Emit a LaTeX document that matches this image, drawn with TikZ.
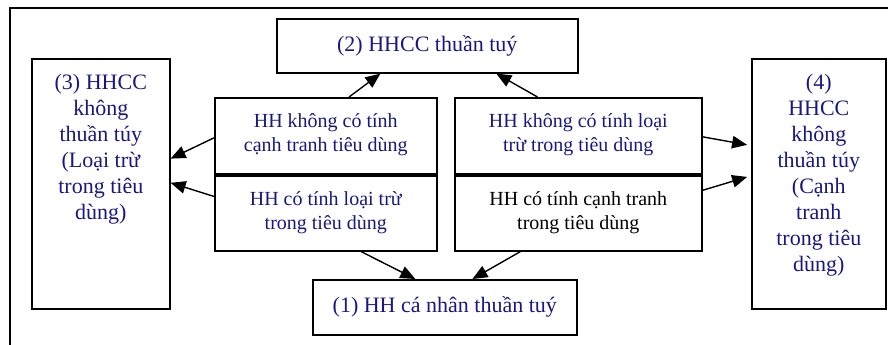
\documentclass[tikz,border=0pt]{standalone}
\usepackage{fontspec}
\setmainfont{Liberation Serif}
\usetikzlibrary{arrows.meta,calc}
\definecolor{navy}{RGB}{24,24,128}
\begin{document}
\begin{tikzpicture}[x=1pt,y=-1pt,
 box/.style={draw, line width=1.6pt, inner sep=0pt, anchor=north west, align=center, text=navy},
 mid/.style={box, font=\fontsize{20}{24}\selectfont},
 big/.style={box, font=\fontsize{22}{26}\selectfont},
 arr/.style={line width=1.4pt, -{Triangle[length=15pt,width=12.5pt]}},
]
\useasboundingbox (0,0) rectangle (888,345);
\draw[line width=1.6pt] (10,345) -- (10,8) -- (888,8);

\node[big, minimum width=301pt, minimum height=54pt] (b2) at (276,18) {(2) HHCC thuần tuý};
\node[big, minimum width=264pt, minimum height=55pt] (b1) at (312,279) {(1) HH cá nhân thuần tuý};
\node[box, minimum width=138pt, minimum height=250pt] (b3) at (31,58) {};
\node[box, minimum width=134pt, minimum height=250pt] (b4) at (751,58) {};
\node[big, draw=none, anchor=north] (t3) at ($(b3.north)+(0,15)$) {(3) HHCC\\không\\thuần túy\\(Loại trừ\\trong tiêu\\dùng)};
\node[big, draw=none, anchor=north] (t4) at ($(b4.north)+(0,15)$) {(4)\\HHCC\\không\\thuần túy\\(Cạnh\\tranh\\trong tiêu\\dùng)};

\node[mid, minimum width=222pt, minimum height=76pt, text depth=6pt] (ul) at (214,97) {HH không có tính\\cạnh tranh tiêu dùng};
\node[mid, minimum width=222pt, minimum height=75pt, text depth=6pt] (ll) at (214,175) {HH có tính loại trừ\\trong tiêu dùng};
\node[mid, minimum width=247pt, minimum height=76pt, text depth=6pt] (ur) at (454,97) {HH không có tính loại\\trừ trong tiêu dùng};
\node[mid, minimum width=247pt, minimum height=75pt, text depth=6pt, text=black] (lr) at (454,175) {HH có tính cạnh tranh\\trong tiêu dùng};

\draw[arr] ($(ul.north west)!0.604!(ul.north east)$) -- ($(b2.south west)!0.345!(b2.south east)$);
\draw[arr] ($(ur.north west)!0.336!(ur.north east)$) -- ($(b2.south west)!0.728!(b2.south east)$);
\draw[arr] ($(ul.north west)!0.526!(ul.south west)$) -- ($(b3.north east)!0.4!(b3.south east)$);
\draw[arr] ($(ll.north west)!0.28!(ll.south west)$) -- ($(b3.north east)!0.496!(b3.south east)$);
\draw[arr, shorten >=4pt] ($(ur.north east)!0.513!(ur.south east)$) -- ($(b4.north west)!0.348!(b4.south west)$);
\draw[arr, shorten >=4pt] ($(lr.north east)!0.2!(lr.south east)$) -- ($(b4.north west)!0.468!(b4.south west)$);
\draw[arr] ($(ll.south west)!0.658!(ll.south east)$) -- ($(b1.north west)!0.389!(b1.north east)$);
\draw[arr] ($(lr.south west)!0.267!(lr.south east)$) -- ($(b1.north west)!0.604!(b1.north east)$);
\end{tikzpicture}
\end{document}
